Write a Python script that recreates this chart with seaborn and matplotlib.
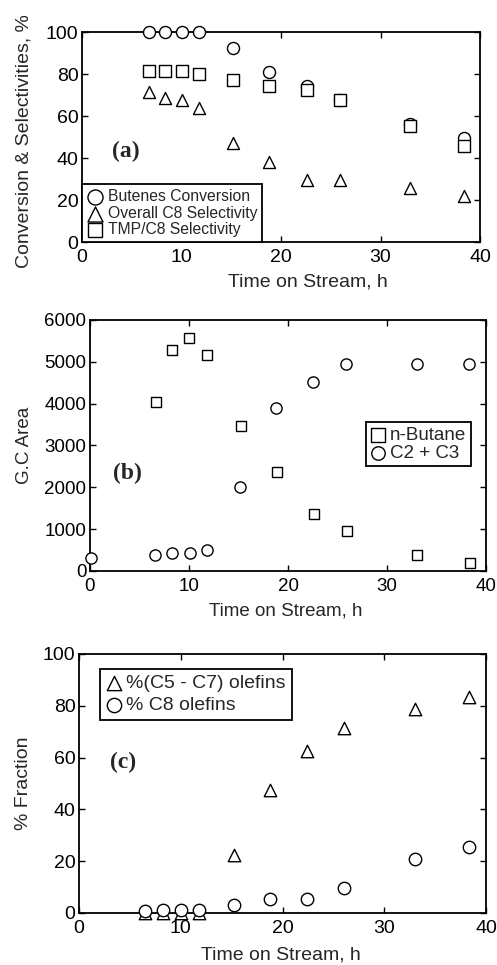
import pandas as pd
import seaborn as sns
import matplotlib.pyplot as plt

# (a) conversion & selectivities
time_a = [6.7, 8.3, 10.0, 11.8, 15.2, 18.8, 22.6, 25.9, 33.0, 38.4]
butenes_conv = [100, 100, 100, 100, 92.4, 80.8, 74.4, 67.5, 56.3, 49.4]
overall_c8_sel = [71.3, 68.6, 67.8, 63.7, 47.1, 37.9, 29.7, 29.7, 25.7, 22.1]
tmp_c8_sel = [81.3, 81.3, 81.3, 80.2, 77.3, 74.1, 72.5, 67.5, 55.1, 45.6]

# (b) G.C area
time_butane = [6.7, 8.3, 10.0, 11.8, 15.3, 18.9, 22.6, 26.0, 33.0, 38.4]
n_butane = [4050, 5290, 5560, 5160, 3470, 2370, 1360, 950, 380, 200]
time_c2c3 = [0.1, 6.6, 8.3, 10.1, 11.8, 15.2, 18.8, 22.5, 25.9, 33.0, 38.3]
c2_c3 = [300, 390, 420, 440, 500, 2010, 3900, 4520, 4950, 4940, 4960]

# (c) olefin fractions
time_c = [6.5, 8.3, 10.0, 11.8, 15.2, 18.8, 22.4, 26.0, 33.0, 38.3]
olefins_c5_c7 = [0, 0, 0, 0, 22.5, 47.5, 62.5, 71.6, 78.7, 83.2]
olefins_c8 = [0.8, 1.3, 1.3, 1.0, 3.0, 5.4, 5.4, 9.5, 20.7, 25.5]

sns.set_style('ticks')
plt.rcParams['font.family'] = ['Liberation Sans', 'DejaVu Sans']

fig = plt.figure(figsize=(4.97, 9.65), dpi=100)
ax_a = fig.add_axes([0.165, 0.7492, 0.801, 0.2176])
ax_b = fig.add_axes([0.181, 0.4083, 0.797, 0.2601])
ax_c = fig.add_axes([0.159, 0.0539, 0.819, 0.2684])


def pts(ax, x, y, marker, label, size=75):
    sns.scatterplot(x=x, y=y, marker=marker, s=size, color='white', edgecolor='black',
                    linewidth=1.0, label=label, ax=ax, clip_on=False, zorder=3)


def style(ax, ymax, yticks, tick_fs):
    ax.set_xlim(0, 40)
    ax.set_ylim(0, ymax)
    ax.set_xticks([0, 10, 20, 30, 40])
    ax.set_yticks(yticks)
    ax.tick_params(direction='in', top=True, right=True, length=4, width=1,
                   labelsize=tick_fs, colors='black')
    ax.tick_params(axis='x', pad=5)
    ax.tick_params(axis='y', pad=2.5)
    for sp in ax.spines.values():
        sp.set_visible(True)
        sp.set_linewidth(1.3)
        sp.set_color('black')


def boxed(leg):
    fr = leg.get_frame()
    fr.set_edgecolor('black')
    fr.set_linewidth(1.3)
    fr.set_alpha(1)


# panel (a)
pts(ax_a, time_a, butenes_conv, 'o', 'Butenes Conversion')
pts(ax_a, time_a, overall_c8_sel, '^', 'Overall C8 Selectivity')
pts(ax_a, time_a, tmp_c8_sel, 's', 'TMP/C8 Selectivity', size=72)
style(ax_a, 100, [0, 20, 40, 60, 80, 100], 14)
ax_a.set_xlabel('Time on Stream, h', fontsize=14)
ax_a.set_ylabel('Conversion & Selectivities, %', fontsize=14)
ax_a.xaxis.set_label_coords(0.568, -0.15)
ax_a.yaxis.set_label_coords(-0.125, 0.48)
ax_a.text(3.0, 43, '(a)', fontsize=17, fontweight='bold', family='Liberation Serif', va='center')
leg = ax_a.legend(loc='lower left', bbox_to_anchor=(0, 0), borderaxespad=0, fontsize=11.3,
                  fancybox=False, handlelength=1.0, handletextpad=0.35, labelspacing=0.1,
                  borderpad=0.3, markerscale=1.25)
boxed(leg)

# panel (b)
pts(ax_b, time_butane, n_butane, 's', 'n-Butane', size=62)
pts(ax_b, time_c2c3, c2_c3, 'o', 'C2 + C3', size=65)
style(ax_b, 6000, [0, 1000, 2000, 3000, 4000, 5000, 6000], 13.5)
ax_b.set_xlabel('Time on Stream, h', fontsize=13.5)
ax_b.set_ylabel('G.C Area', fontsize=13.5)
ax_b.xaxis.set_label_coords(0.495, -0.125)
ax_b.yaxis.set_label_coords(-0.145, 0.5)
ax_b.text(2.3, 2343, '(b)', fontsize=17, fontweight='bold', family='Liberation Serif', va='center')
leg = ax_b.legend(loc='upper right', bbox_to_anchor=(0.962, 0.594), borderaxespad=0,
                  fontsize=13.5, fancybox=False, handlelength=0.8, handletextpad=0.25,
                  labelspacing=0.05, borderpad=0.25, markerscale=1.2)
boxed(leg)

# panel (c)
pts(ax_c, time_c, olefins_c5_c7, '^', '%(C5 - C7) olefins', size=80)
pts(ax_c, time_c, olefins_c8, 'o', '% C8 olefins', size=80)
style(ax_c, 100, [0, 20, 40, 60, 80, 100], 14)
ax_c.set_xlabel('Time on Stream, h', fontsize=14)
ax_c.set_ylabel('% Fraction', fontsize=14)
ax_c.xaxis.set_label_coords(0.496, -0.128)
ax_c.yaxis.set_label_coords(-0.115, 0.5)
ax_c.text(3.05, 58.3, '(c)', fontsize=17, fontweight='bold', family='Liberation Serif', va='center')
leg = ax_c.legend(loc='upper left', bbox_to_anchor=(0.052, 0.942), borderaxespad=0,
                  fontsize=14, fancybox=False, handlelength=0.8, handletextpad=0.25,
                  labelspacing=0.2, borderpad=0.3, markerscale=1.15)
boxed(leg)

fig.savefig('out.png', dpi=100)
